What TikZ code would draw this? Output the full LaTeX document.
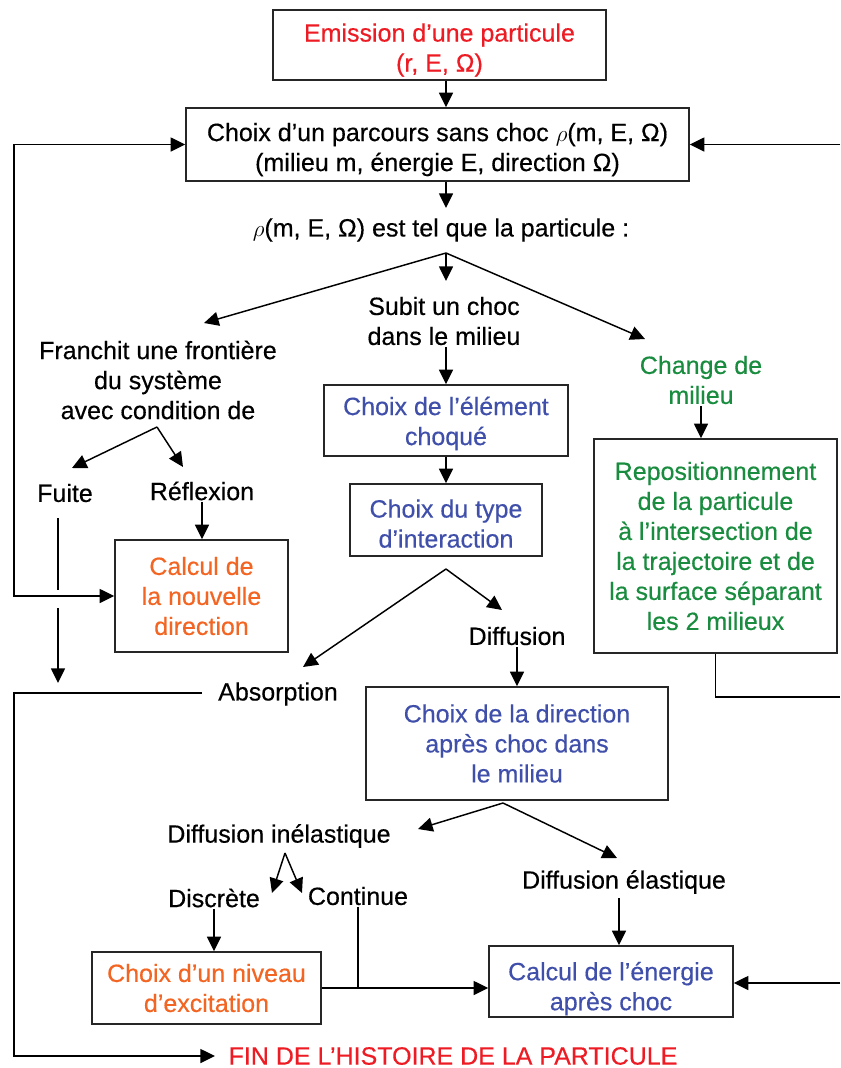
\documentclass[tikz,border=0pt]{standalone}
\usepackage{fontspec}
\setmainfont{Liberation Sans}[FakeBold=0.4]
\usetikzlibrary{arrows.meta,calc}
\definecolor{cred}{HTML}{ED1C24}
\definecolor{corange}{HTML}{F26522}
\definecolor{cblue}{HTML}{3F4FAA}
\definecolor{cgreen}{HTML}{1A8C3F}
\newcommand\topgap[1]{\rule{0pt}{#1}}
\begin{document}
\begin{tikzpicture}[x=0.75pt,y=-0.75pt,
  font=\fontsize{18.75pt}{22.5pt}\selectfont,
  box/.style={draw=black!85, line width=1.1pt, align=center, inner sep=0pt},
  txt/.style={align=center, inner sep=1pt},
  ln/.style={line width=1.1pt},
  arr/.style={ln, -{Triangle[length=11pt,width=10.5pt]}},
  bw/.style={minimum width=0.75pt*#1},
  bh/.style={minimum height=0.75pt*#1}]
\useasboundingbox (0,0) rectangle (840,1068);

% nodes
\node[box,bw=333,bh=70,text=cred] (emis) at (439.5,45) {\topgap{21.2pt}Emission d’une particule\\(r, E, Ω)};
\node[box,bw=503,bh=73] (parc) at (437.5,144.5) {\topgap{21.2pt}Choix d’un parcours sans choc $\rho$(m, E, Ω)\\(milieu m, énergie E, direction Ω)};
\node[txt] (rho) at (441,230) {$\rho$(m, E, Ω) est tel que la particule :};
\node[txt] (fran) at (158,380) {Franchit une frontière\\du système\\avec condition de};
\node[txt] (subit) at (444,321) {Subit un choc\\dans le milieu};
\node[txt,text=cgreen] (chg) at (701,380) {Change de\\milieu};
\node[box,bw=244,bh=71,text=cblue] (elem) at (446,420.5) {\topgap{18.2pt}Choix de l’élément\\choqué};
\node[box,bw=192,bh=72,text=cblue] (type) at (446,520) {\topgap{19pt}Choix du type\\d’interaction};
\node[txt] (diff) at (517,636) {Diffusion};
\node[txt] (abs) at (278,694) {Absorption};
\node[box,bw=302,bh=113,text=cblue] (dir) at (517,743.5) {Choix de la direction\\après choc dans\\le milieu};
\node[txt] (inel) at (279,836) {Diffusion inélastique};
\node[txt] (elas) at (624,882) {Diffusion élastique};
\node[txt] (discr) at (214,898) {Discrète};
\node[txt] (cont) at (358,896) {Continue};
\node[box,bw=229,bh=72,text=corange] (niv) at (206.5,988) {Choix d’un niveau\\d’excitation};
\node[box,bw=244,bh=71,text=cblue] (ener) at (611,981.5) {\topgap{24.5pt}Calcul de l’énergie\\après choc};
\node[txt,text=cred] (fin) at (453,1056) {FIN DE L’HISTOIRE DE LA PARTICULE};
\node[txt] (fuite) at (65,493) {Fuite};
\node[txt] (refl) at (202,491) {Réflexion};
\node[box,bw=173,bh=112,text=corange] (calc) at (201.5,596) {Calcul de\\la nouvelle\\direction};
\node[box,bw=243,bh=214,text=cgreen] (repos) at (715.5,546) {Repositionnement\\de la particule\\à l’intersection de\\la trajectoire et de\\la surface séparant\\les 2 milieux};

% coordinates
\coordinate (b1) at (446,253);
\coordinate (tRho) at (446,208);
\coordinate (tL) at (204,323);
\coordinate (tC) at (446,281);
\coordinate (tR) at (645,339);
\coordinate (b2) at (446,569);
\coordinate (tAbs) at (303,667);
\coordinate (tDiff) at (502,610);
\coordinate (b3) at (503,803);
\coordinate (tIn) at (418,829);
\coordinate (tEl) at (617,858);
\coordinate (aEl) at (619,898);
\coordinate (b4) at (285,853);
\coordinate (tDis) at (272,893);
\coordinate (tCon) at (302,893);
\coordinate (b5) at (157,427);
\coordinate (tFu) at (72,468);
\coordinate (tRe) at (183,467);
\coordinate (f1) at (58,518);
\coordinate (f2) at (58,590);
\coordinate (f3) at (58,608);
\coordinate (f4) at (58,683);
\coordinate (aAbs) at (202,693);
\coordinate (tFin) at (215,1056);
\coordinate (lTop) at (14,144.5);
\coordinate (lMid) at (14,596);
\coordinate (lAbs) at (14,693);
\coordinate (lBot) at (14,1056);
\coordinate (eTop) at (840,144.5);
\coordinate (eMid) at (840,697);
\coordinate (eBot) at (840,983);

% connectors
\draw[arr] (emis.south -| b1) -- (parc.north -| b1);
\draw[arr] (parc.south -| b1) -- (tRho);
\draw[arr] (b1) -- (tL);
\draw[arr] (b1) -- (tC);
\draw[arr] (b1) -- (tR);
\draw[arr] (subit.south -| elem.north) -- (elem.north);
\draw[arr] (elem.south) -- (type.north);
\draw[arr] (b2) -- (tAbs);
\draw[arr] (b2) -- (tDiff);
\draw[arr] (diff.south) -- (diff.south |- dir.north);
\draw[arr] (b3) -- (tIn);
\draw[arr] (b3) -- (tEl);
\draw[arr] (aEl) -- (aEl |- ener.north);
\draw[arr] (b4) -- (tDis);
\draw[arr] (b4) -- (tCon);
\draw[arr] (discr.south) -- (discr.south |- niv.north);
\draw[arr] (niv.east) -- (niv.east -| ener.west);
\draw[ln] (cont.south) -- (cont.south |- niv.east);
\draw[arr] (eBot) -- (eBot -| ener.east);
\draw[arr] (eTop) -- (parc.east);
\draw[ln] (repos.south) |- (eMid);
\draw[arr] (chg.south) -- (chg.south |- repos.north);
\draw[ln, {Triangle[length=11pt,width=10.5pt]}-{Triangle[length=11pt,width=10.5pt]}] (calc.west) -- (lMid) -- (lTop) -- (parc.west);
\draw[ln] (f1) -- (f2);
\draw[arr] (f3) -- (f4);
\draw[arr] (aAbs) -- (lAbs) -- (lBot) -- (tFin);
\draw[arr] (b5) -- (tFu);
\draw[arr] (b5) -- (tRe);
\draw[arr] (refl.south) -- (refl.south |- calc.north);
\end{tikzpicture}
\end{document}
